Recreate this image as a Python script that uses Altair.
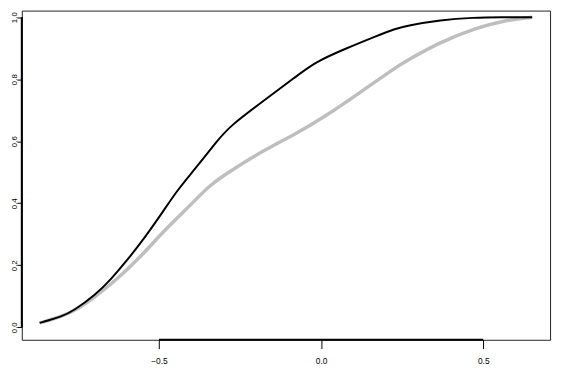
import altair as alt
import pandas as pd

# Black curve
black_x = [-0.868, -0.798, -0.767, -0.696, -0.646, -0.595, -0.544, -0.494, -0.443, -0.392, -0.321,
           -0.281, -0.179, -0.078, -0.017, 0.074, 0.175, 0.226, 0.266, 0.368, 0.469, 0.560, 0.651]
black_y = [0.014, 0.035, 0.051, 0.104, 0.157, 0.220, 0.289, 0.363, 0.443, 0.506, 0.601,
           0.649, 0.729, 0.808, 0.856, 0.898, 0.941, 0.962, 0.973, 0.991, 0.999, 1.000, 1.000]

# Grey curve
grey_x = [-0.868, -0.798, -0.747, -0.696, -0.646, -0.595, -0.544, -0.494, -0.443, -0.392, -0.342,
          -0.291, -0.179, -0.078, 0.023, 0.125, 0.226, 0.266, 0.368, 0.469, 0.570, 0.651]
grey_y = [0.014, 0.035, 0.061, 0.099, 0.141, 0.189, 0.242, 0.300, 0.353, 0.406, 0.459,
          0.496, 0.570, 0.623, 0.687, 0.761, 0.835, 0.861, 0.920, 0.962, 0.991, 1.000]

x_ticks = [-0.5, 0.0, 0.5]
y_ticks = [0.0, 0.2, 0.4, 0.6, 0.8, 1.0]

X_DOMAIN = [-0.9231, 0.7061]
Y_DOMAIN = [-0.0404, 1.0213]
W, H = 536, 334

df_black = pd.DataFrame({"x": black_x, "y": black_y, "o": range(len(black_x))})
df_grey = pd.DataFrame({"x": grey_x, "y": grey_y, "o": range(len(grey_x))})

xs = alt.Scale(domain=X_DOMAIN, nice=False, zero=False)
ys = alt.Scale(domain=Y_DOMAIN, nice=False, zero=False)

font = "Liberation Sans"

x_axis = alt.Axis(values=x_ticks, labelExpr="format(datum.value, '.1f')", grid=False,
                  domain=False, tickSize=9, tickColor="black", tickWidth=1,
                  labelFont=font, labelFontSize=8.5, labelColor="black", labelPadding=8,
                  title=None)
y_axis = alt.Axis(values=y_ticks, labelExpr="format(datum.value, '.1f')", grid=False,
                  domain=False, tickSize=5, tickColor="black", tickWidth=1,
                  labelFont=font, labelFontSize=8, labelColor="black", labelPadding=0,
                  labelAngle=270, labelAlign="center", labelBaseline="alphabetic",
                  title=None)

grey = alt.Chart(df_grey).mark_line(color="#bebebe", strokeWidth=3.5, interpolate="basis").encode(
    x=alt.X("x:Q", scale=xs, axis=x_axis),
    y=alt.Y("y:Q", scale=ys, axis=y_axis),
    order="o:Q",
)
black = alt.Chart(df_black).mark_line(color="black", strokeWidth=2, interpolate="basis").encode(
    x=alt.X("x:Q", scale=xs),
    y=alt.Y("y:Q", scale=ys),
    order="o:Q",
)

xa = pd.DataFrame({"a": [min(x_ticks)], "b": [max(x_ticks)]})
ya = pd.DataFrame({"a": [min(y_ticks)], "b": [max(y_ticks)]})
x_line = alt.Chart(xa).mark_rule(color="black", strokeWidth=2).encode(
    x=alt.X("a:Q", scale=xs), x2="b:Q", y=alt.value(H))
y_line = alt.Chart(ya).mark_rule(color="black", strokeWidth=2).encode(
    y=alt.Y("a:Q", scale=ys), y2="b:Q", x=alt.value(0))

chart = alt.layer(grey, black, x_line, y_line).properties(
    width=W, height=H,
    background="white",
    autosize=alt.AutoSizeParams(type="none"),
    padding={"left": 14, "top": 0, "right": 4, "bottom": 26},
).configure_view(stroke="#222222", strokeWidth=1)

chart.save("out.html", embed_options={"renderer": "svg", "actions": False})
